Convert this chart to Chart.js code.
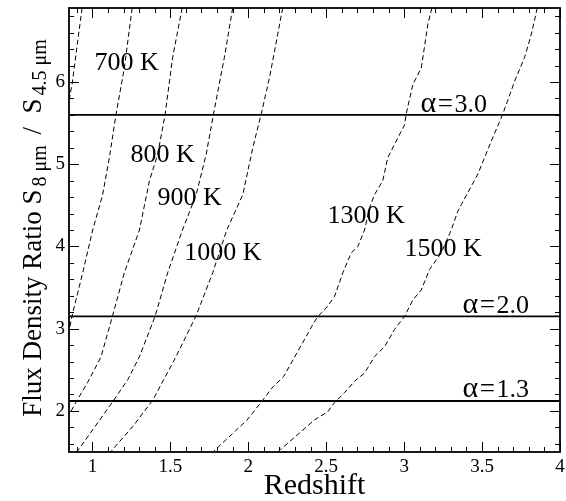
<!DOCTYPE html>
<html>
<head>
<meta charset="utf-8">
<script src="https://cdn.jsdelivr.net/npm/chart.js@4.4.1/dist/chart.umd.min.js"></script>
<style>
  html, body { margin: 0; padding: 0; background: #fff; }
  #wrap { width: 566px; height: 501px; }
</style>
</head>
<body>
<div id="wrap"><canvas id="fluxChart" width="566" height="501"></canvas></div>
<script>
// redshift (z) vs. S8/S4.5 flux ratio (r) tracks, one pair per temperature
const z600 = [0.934, 0.906, 0.872, 0.850];
const r600 = [6.90, 6.50, 6.00, 5.77];

const z700 = [1.255, 1.205, 1.152, 1.109, 1.066, 1.002, 0.938, 0.874, 0.852];
const r700 = [6.90, 6.17, 5.61, 5.08, 4.63, 4.20, 3.68, 3.19, 2.99];

const z800 = [1.576, 1.515, 1.467, 1.419, 1.366, 1.302, 1.205, 1.130, 1.056, 0.968, 0.902, 0.852];
const r800 = [6.90, 6.30, 5.61, 5.12, 4.80, 4.20, 3.68, 3.16, 2.66, 2.34, 2.13, 1.96];

const z900 = [1.900, 1.847, 1.777, 1.730, 1.666, 1.578, 1.483, 1.404, 1.302, 1.227, 1.137, 1.002, 0.900];
const r900 = [6.90, 6.30, 5.61, 5.12, 4.63, 4.20, 3.68, 3.16, 2.66, 2.38, 2.13, 1.77, 1.50];

const z1000 = [2.221, 2.189, 2.136, 2.083, 2.029, 1.965, 1.862, 1.772, 1.666, 1.537, 1.387, 1.259, 1.130, 1.118];
const r1000 = [6.90, 6.58, 6.05, 5.61, 5.20, 4.63, 4.20, 3.68, 3.16, 2.66, 2.13, 1.81, 1.53, 1.50];

const z1300 = [3.178, 3.152, 3.110, 3.056, 3.013, 3.003, 2.938, 2.895, 2.863, 2.810, 2.778, 2.746, 2.703, 2.660,
               2.607, 2.553, 2.500, 2.447, 2.420, 2.228, 2.153, 2.093, 1.993, 1.779];
const r1300 = [6.90, 6.70, 6.17, 5.97, 5.61, 5.48, 5.24, 5.08, 4.80, 4.63, 4.47, 4.20, 4.00, 3.92,
               3.68, 3.39, 3.25, 3.15, 3.07, 2.42, 2.28, 2.13, 1.89, 1.51];

const z1500 = [3.854, 3.816, 3.773, 3.709, 3.633, 3.559, 3.473, 3.367, 3.345, 3.302, 3.238, 3.163, 3.110, 3.056,
               3.003, 2.938, 2.874, 2.810, 2.746, 2.682, 2.617, 2.553, 2.510, 2.425, 2.207, 2.190];
const r1500 = [6.90, 6.58, 6.30, 6.01, 5.61, 5.28, 4.88, 4.51, 4.43, 4.20, 3.92, 3.72, 3.47, 3.35,
               3.15, 2.99, 2.78, 2.66, 2.46, 2.36, 2.22, 2.10, 1.99, 1.89, 1.53, 1.50];

// power-law index reference levels
const alphaLevels = [5.60, 3.15, 2.12];
const alphaValues = ["3.0", "2.0", "1.3"];

const tempNames = ["700 K", "800 K", "900 K", "1000 K", "1300 K", "1500 K"];

const xMajor = [1, 1.5, 2, 2.5, 3, 3.5, 4];
const yMajor = [2, 3, 4, 5, 6];

const X_MIN = 0.85, X_MAX = 4, Y_MIN = 1.5, Y_MAX = 6.9;
const SERIF = "'Liberation Serif', 'Times New Roman', serif";

const pairs = (zs, rs) => zs.map((z, i) => ({ x: z, y: rs[i] }));

const tracks = [
  [z600, r600], [z700, r700], [z800, r800], [z900, r900],
  [z1000, r1000], [z1300, r1300], [z1500, r1500]
];

const datasets = tracks.map(([zs, rs]) => ({
  data: pairs(zs, rs),
  borderColor: "#000",
  borderWidth: 1,
  borderDash: [5, 3],
  pointRadius: 0,
  showLine: true,
  tension: 0,
  clip: 0
}));

alphaLevels.forEach(level => {
  datasets.push({
    data: [{ x: X_MIN, y: level }, { x: X_MAX, y: level }],
    borderColor: "#000",
    borderWidth: 1.8,
    pointRadius: 0,
    showLine: true,
    clip: 0
  });
});

// label anchors in data units (left edge, baseline)
const tempSpots = [[1.013, 6.15], [1.244, 5.03], [1.417, 4.51], [1.590, 3.84], [2.508, 4.29], [3.003, 3.88]];
const alphaSpots = [[3.105, 5.64], [3.375, 3.19], [3.375, 2.17]];

const noteLabels = {
  id: "noteLabels",
  afterDatasetsDraw(chart) {
    const { ctx, scales: { x, y } } = chart;
    ctx.save();
    ctx.fillStyle = "#000";
    ctx.textAlign = "left";
    ctx.textBaseline = "alphabetic";
    ctx.font = "26px " + SERIF;
    tempNames.forEach((text, i) => {
      const [zx, ry] = tempSpots[i];
      ctx.fillText(text, x.getPixelForValue(zx), y.getPixelForValue(ry));
    });
    alphaValues.forEach((val, i) => {
      const [zx, ry] = alphaSpots[i];
      let px = x.getPixelForValue(zx);
      const py = y.getPixelForValue(ry);
      ctx.font = "30px " + SERIF;
      ctx.fillText("α", px, py);
      px += ctx.measureText("α").width + 1.5;
      ctx.font = "27px " + SERIF;
      ctx.fillText("=", px, py);
      px += ctx.measureText("=").width + 1.5;
      ctx.font = "26px " + SERIF;
      ctx.fillText(val, px, py);
    });
    ctx.restore();
  }
};

// box around the plot with inward ticks on all four sides
const frame = {
  id: "frame",
  afterDatasetsDraw(chart) {
    const { ctx, chartArea: a, scales: { x, y } } = chart;
    ctx.save();
    ctx.strokeStyle = "#000";
    ctx.lineWidth = 1;
    ctx.beginPath();
    for (let i = 9; i <= 40; i++) {
      const v = i / 10;
      const len = xMajor.includes(v) ? 10 : 5;
      const px = Math.round(x.getPixelForValue(v)) + 0.5;
      ctx.moveTo(px, a.bottom); ctx.lineTo(px, a.bottom - len);
      ctx.moveTo(px, a.top); ctx.lineTo(px, a.top + len);
    }
    for (let i = 8; i <= 34; i++) {
      const v = Math.round(i * 2) / 10;
      const len = yMajor.includes(v) ? 10 : 5;
      const py = Math.round(y.getPixelForValue(v)) + 0.5;
      ctx.moveTo(a.left, py); ctx.lineTo(a.left + len, py);
      ctx.moveTo(a.right, py); ctx.lineTo(a.right - len, py);
    }
    ctx.stroke();
    ctx.lineWidth = 1.8;
    ctx.strokeRect(a.left, a.top, a.right - a.left, a.bottom - a.top);
    ctx.restore();
  }
};

// rotated y title with subscripts
const yTitle = {
  id: "yTitle",
  afterDraw(chart) {
    const { ctx, chartArea: a } = chart;
    const big = "27px " + SERIF, small = "20px " + SERIF;
    const parts = [
      ["Flux Density Ratio S", big, 0, 3],
      ["8 μm", small, 5, 4],
      [" /  S", big, 0, 3],
      ["4.5 μm", small, 5, 0]
    ];
    ctx.save();
    let total = 0;
    parts.forEach(p => { ctx.font = p[1]; total += ctx.measureText(p[0]).width + p[3]; });
    ctx.translate(41, (a.top + a.bottom) / 2 - 2);
    ctx.rotate(-Math.PI / 2);
    ctx.fillStyle = "#000";
    ctx.textBaseline = "alphabetic";
    let pos = -total / 2;
    parts.forEach(p => {
      ctx.font = p[1];
      ctx.fillText(p[0], pos, p[2]);
      pos += ctx.measureText(p[0]).width + p[3];
    });
    ctx.restore();
  }
};

new Chart(document.getElementById("fluxChart"), {
  type: "scatter",
  data: { datasets },
  options: {
    responsive: false,
    animation: false,
    devicePixelRatio: 1,
    layout: { padding: { top: 8, right: 6, left: 0, bottom: 0 } },
    plugins: { legend: { display: false }, tooltip: { enabled: false } },
    scales: {
      x: {
        type: "linear",
        min: X_MIN,
        max: X_MAX,
        grid: { display: false, drawTicks: false },
        border: { display: false },
        afterBuildTicks: s => { s.ticks = xMajor.map(v => ({ value: v })); },
        afterFit: s => { s.height = 49; s.paddingLeft = 0; s.paddingRight = 0; },
        ticks: {
          color: "#000",
          font: { family: SERIF, size: 19 },
          padding: 4,
          maxRotation: 0,
          autoSkip: false,
          callback: v => String(v)
        },
        title: {
          display: true,
          text: "Redshift",
          color: "#000",
          font: { family: SERIF, size: 30, lineHeight: 1 },
          padding: 0
        }
      },
      y: {
        type: "linear",
        min: Y_MIN,
        max: Y_MAX,
        grid: { display: false, drawTicks: false },
        border: { display: false },
        afterBuildTicks: s => { s.ticks = yMajor.map(v => ({ value: v })); },
        afterFit: s => { s.width = 69; s.paddingTop = 0; s.paddingBottom = 0; },
        ticks: {
          color: "#000",
          font: { family: SERIF, size: 19 },
          padding: 4,
          autoSkip: false,
          callback: v => String(v)
        }
      }
    }
  },
  plugins: [noteLabels, frame, yTitle]
});
</script>
</body>
</html>
